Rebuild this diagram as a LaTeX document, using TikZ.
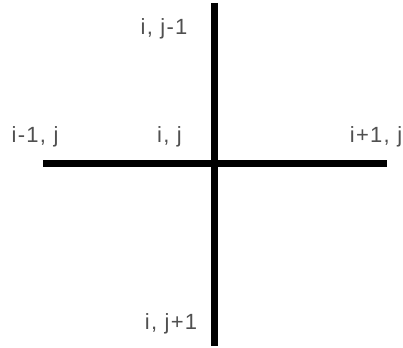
\documentclass[tikz,border=0pt]{standalone}
\usepackage{fontspec}
\setmainfont{Liberation Sans}
\usepackage{xcolor}
\usepackage{tikz}
\definecolor{lblgray}{RGB}{80,80,80}

\begin{document}
\begin{tikzpicture}[
  x=1pt, y=-1pt,
  bar/.style={line width=7pt, black},
  lbl/.style={font=\fontsize{22}{25}\selectfont\addfontfeature{LetterSpace=6}, text=lblgray, anchor=base, inner sep=0pt}
]
\useasboundingbox (0,0) rectangle (403,347);
\coordinate (top) at (214.5,3);
\coordinate (bottom) at (214.5,346);
\coordinate (left) at (43,164);
\coordinate (right) at (387,164);

\draw[bar] (left) -- (right);
\draw[bar] (top) -- (bottom);

\node[lbl] (north) at (164,35) {i, j-1};
\node[lbl] (west) at (35,143) {i-1, j};
\node[lbl] (centre) at (169.5,143) {i, j};
\node[lbl] (east) at (376,143) {i+1, j};
\node[lbl] (south) at (171,329) {i, j+1};
\end{tikzpicture}
\end{document}
